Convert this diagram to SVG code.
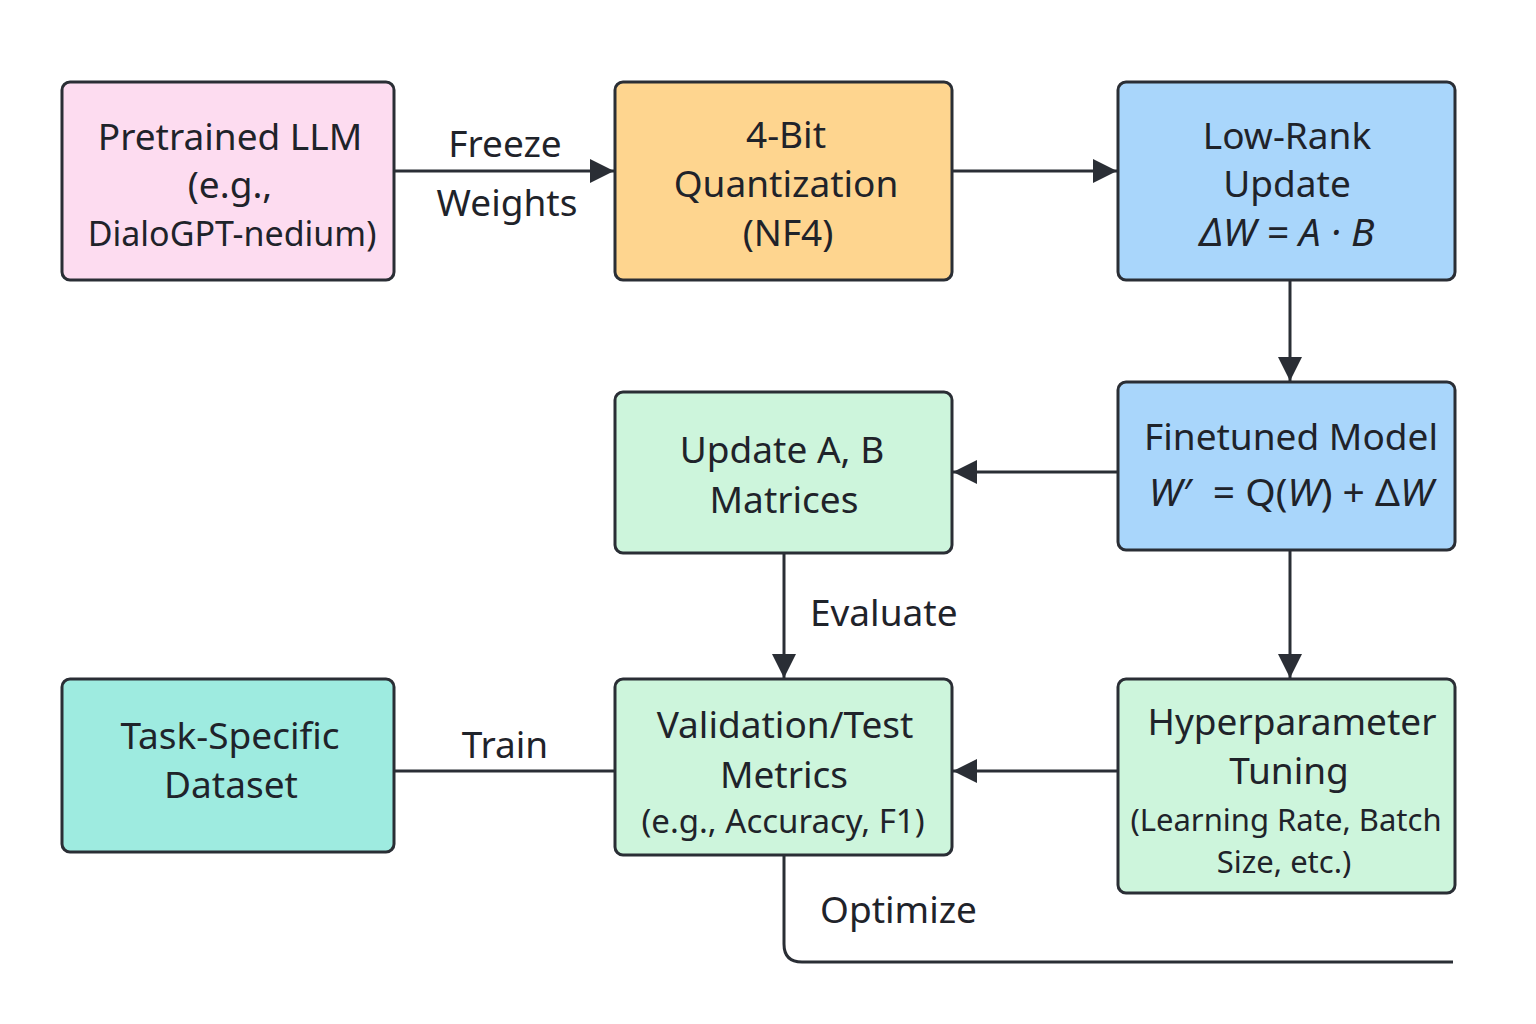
<svg xmlns="http://www.w3.org/2000/svg" width="1536" height="1024" viewBox="0 0 1536 1024">
<defs>
<marker id="ah" viewBox="0 0 10 10" refX="10" refY="5" markerWidth="24" markerHeight="24" markerUnits="userSpaceOnUse" orient="auto">
<path d="M0,0 L10,5 L0,10 Z" fill="#2a2e35"/>
</marker>
<style>
.box{stroke:#2a2e35;stroke-width:3}
.t{font-family:"Noto Sans","Open Sans",sans-serif;font-size:37px;fill:#1f232a;text-anchor:middle}
.m{font-style:italic}
.s{font-size:31px}
.s2{font-size:33px}
.s3{font-size:34px}
.lg{font-size:39px}
.lbl{font-family:"Noto Sans","Open Sans",sans-serif;font-size:37px;fill:#1f232a}
.c{fill:none;stroke:#2a2e35;stroke-width:3}
</style>
</defs>
<rect width="1536" height="1024" fill="#ffffff"/>
<g id="connectors">
<line class="c" x1="395" y1="171" x2="614" y2="171" marker-end="url(#ah)"/>
<line class="c" x1="953" y1="171" x2="1117" y2="171" marker-end="url(#ah)"/>
<line class="c" x1="1290" y1="281" x2="1290" y2="381" marker-end="url(#ah)"/>
<line class="c" x1="1118" y1="472" x2="953" y2="472" marker-end="url(#ah)"/>
<line class="c" x1="784" y1="554" x2="784" y2="678" marker-end="url(#ah)"/>
<line class="c" x1="1290" y1="551" x2="1290" y2="678" marker-end="url(#ah)"/>
<line class="c" x1="1118" y1="771" x2="953" y2="771" marker-end="url(#ah)"/>
<line class="c" x1="395" y1="771" x2="615" y2="771"/>
<path class="c" d="M784,856 L784,944 Q784,962 802,962 L1453,962"/>
<text class="lbl" x="505" y="157" text-anchor="middle">Freeze</text>
<text class="lbl" x="507" y="216" text-anchor="middle">Weights</text>
<text class="lbl" x="810" y="626">Evaluate</text>
<text class="lbl" x="820" y="923">Optimize</text>
<text class="lbl" x="505" y="758" text-anchor="middle">Train</text>
</g>
<g id="n1">
<rect class="box" x="62" y="82" width="332" height="198" rx="8" fill="#fddcf0"/>
<text class="t" x="230" y="150">Pretrained LLM</text>
<text class="t" x="230" y="198">(e.g.,</text>
<text class="t s3" x="232" y="246">DialoGPT-nedium)</text>
</g>
<g id="n2">
<rect class="box" x="615" y="82" width="337" height="198" rx="8" fill="#fed58f"/>
<text class="t" x="786" y="148">4-Bit</text>
<text class="t" x="786" y="197">Quantization</text>
<text class="t" x="788" y="246">(NF4)</text>
</g>
<g id="n3">
<rect class="box" x="1118" y="82" width="337" height="198" rx="8" fill="#a9d6fb"/>
<text class="t" x="1287" y="149">Low-Rank</text>
<text class="t" x="1287" y="197">Update</text>
<text class="t m lg" x="1287" y="246">ΔW = A · B</text>
</g>
<g id="n4">
<rect class="box" x="1118" y="382" width="337" height="168" rx="8" fill="#a9d6fb"/>
<text class="t" x="1291" y="450">Finetuned Model</text>
<text class="t lg" x="1291" y="506"><tspan class="m">W′</tspan><tspan dx="12"> = Q(</tspan><tspan class="m">W</tspan>) + Δ<tspan class="m">W</tspan></text>
</g>
<g id="n5">
<rect class="box" x="615" y="392" width="337" height="161" rx="8" fill="#cdf5dc"/>
<text class="t" x="782" y="463">Update A, B</text>
<text class="t" x="784" y="513">Matrices</text>
</g>
<g id="n6">
<rect class="box" x="62" y="679" width="332" height="173" rx="8" fill="#9eebe0"/>
<text class="t" x="230" y="749">Task-Specific</text>
<text class="t" x="231" y="798">Dataset</text>
</g>
<g id="n7">
<rect class="box" x="615" y="679" width="337" height="176" rx="8" fill="#cdf5dc"/>
<text class="t" x="785" y="738">Validation/Test</text>
<text class="t" x="784" y="788">Metrics</text>
<text class="t s2" x="783" y="833">(e.g., Accuracy, F1)</text>
</g>
<g id="n8">
<rect class="box" x="1118" y="679" width="337" height="214" rx="8" fill="#cdf5dc"/>
<text class="t" x="1292" y="735">Hyperparameter</text>
<text class="t" x="1289" y="784">Tuning</text>
<text class="t s" x="1286" y="831">(Learning Rate, Batch</text>
<text class="t s" x="1284" y="873">Size, etc.)</text>
</g>
</svg>
